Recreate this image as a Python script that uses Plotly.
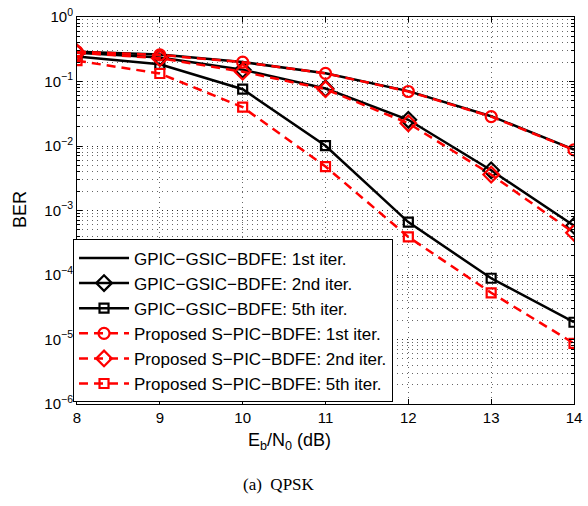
import plotly.graph_objects as go

snr_db = [8, 9, 10, 11, 12, 13, 14]
gpic_1st = [0.29, 0.262, 0.200, 0.134, 0.071, 0.029, 0.0088]
gpic_2nd = [0.28, 0.235, 0.152, 0.078, 0.0255, 0.0042, 0.00058]
gpic_5th = [0.245, 0.185, 0.076, 0.0101, 0.00066, 8.9e-5, 1.85e-5]
prop_1st = [0.29, 0.258, 0.199, 0.134, 0.070, 0.0286, 0.0087]
prop_2nd = [0.28, 0.23, 0.142, 0.076, 0.0225, 0.0036, 0.00045]
prop_5th = [0.21, 0.133, 0.040, 0.0048, 0.00039, 5.3e-5, 8.7e-6]

names = [
    "GPIC\u2212GSIC\u2212BDFE: 1st iter.",
    "GPIC\u2212GSIC\u2212BDFE: 2nd iter.",
    "GPIC\u2212GSIC\u2212BDFE: 5th iter.",
    "Proposed S\u2212PIC\u2212BDFE: 1st iter.",
    "Proposed S\u2212PIC\u2212BDFE: 2nd iter.",
    "Proposed S\u2212PIC\u2212BDFE: 5th iter.",
]
ytick_vals = [1e-6, 1e-5, 1e-4, 1e-3, 1e-2, 1e-1, 1]
ytick_text = ["10<sup>\u22126</sup>", "10<sup>\u22125</sup>", "10<sup>\u22124</sup>",
              "10<sup>\u22123</sup>", "10<sup>\u22122</sup>", "10<sup>\u22121</sup>", "10<sup>0</sup>"]

fig = go.Figure()
dash_red = "9px,6px"
series = [
    (gpic_1st, "black", "solid", None, 0),
    (gpic_2nd, "black", "solid", "diamond-open", 12),
    (gpic_5th, "black", "solid", "square-open", 9),
    (prop_1st, "red", dash_red, "circle-open", 11),
    (prop_2nd, "red", dash_red, "diamond-open", 12),
    (prop_5th, "red", dash_red, "square-open", 9),
]
for (vals, col, dash, sym, size), nm in zip(series, names):
    fig.add_trace(go.Scatter(
        x=snr_db, y=vals, name=nm,
        mode="lines" if sym is None else "lines+markers",
        line=dict(color=col, width=2.5, dash=dash),
        marker=dict(symbol=sym, size=size, color=col, line=dict(color=col, width=2.2)) if sym else None,
    ))

grid_col = "rgba(0,0,0,0.6)"
grid_dash = "1px,4px"
L, R, T, B = 77, 14, 17, 102
W, H = 588, 506
fig.update_layout(
    width=W, height=H,
    margin=dict(l=L, r=R, t=T, b=B, autoexpand=False),
    paper_bgcolor="white", plot_bgcolor="white",
    font=dict(family="Liberation Sans, Arial, sans-serif", size=14, color="black"),
    showlegend=True,
    legend=dict(
        x=-0.008, y=0.004, xanchor="left", yanchor="bottom",
        bgcolor="white", bordercolor="black", borderwidth=1,
        font=dict(size=17), itemwidth=50, tracegroupgap=0,
    ),
    xaxis=dict(
        range=[8, 14], dtick=1, tick0=8, automargin=False,
        showline=True, linecolor="black", linewidth=1, mirror="ticks",
        ticks="inside", ticklen=5, tickcolor="black",
        showgrid=True, gridcolor=grid_col, griddash=grid_dash, gridwidth=1,
        zeroline=False, tickfont=dict(size=15),
    ),
    yaxis=dict(
        type="log", range=[-6, 0], automargin=False,
        tickvals=ytick_vals, ticktext=ytick_text,
        showline=True, linecolor="black", linewidth=1, mirror="ticks",
        ticks="inside", ticklen=5, tickcolor="black",
        showgrid=True, gridcolor=grid_col, griddash=grid_dash, gridwidth=1,
        zeroline=False, tickfont=dict(size=15),
        minor=dict(ticks="inside", ticklen=3, tickcolor="black", showgrid=True,
                   gridcolor=grid_col, griddash=grid_dash, gridwidth=1, dtick="D1"),
    ),
)
pw, ph = W - L - R, H - T - B
texts = [
    ("E<sub>b</sub>/N<sub>0</sub> (dB)", 289, 441, 18, "Liberation Sans, Arial, sans-serif", 0),
    ("BER", 20, 210, 18, "Liberation Sans, Arial, sans-serif", -90),
    ("(a)  QPSK", 279, 484, 17, "Liberation Serif, Times New Roman, serif", 0),
]
for txt, px, py, fs, fam, ang in texts:
    fig.add_annotation(text=txt, xref="paper", yref="paper",
                       x=(px - L) / pw, y=1 - (py - T) / ph,
                       xanchor="center", yanchor="middle", showarrow=False,
                       textangle=ang, font=dict(size=fs, family=fam))
fig.write_html("out.html", config={"displayModeBar": False},
               post_script="document.body.style.margin='0px';document.body.style.overflow='hidden';")
